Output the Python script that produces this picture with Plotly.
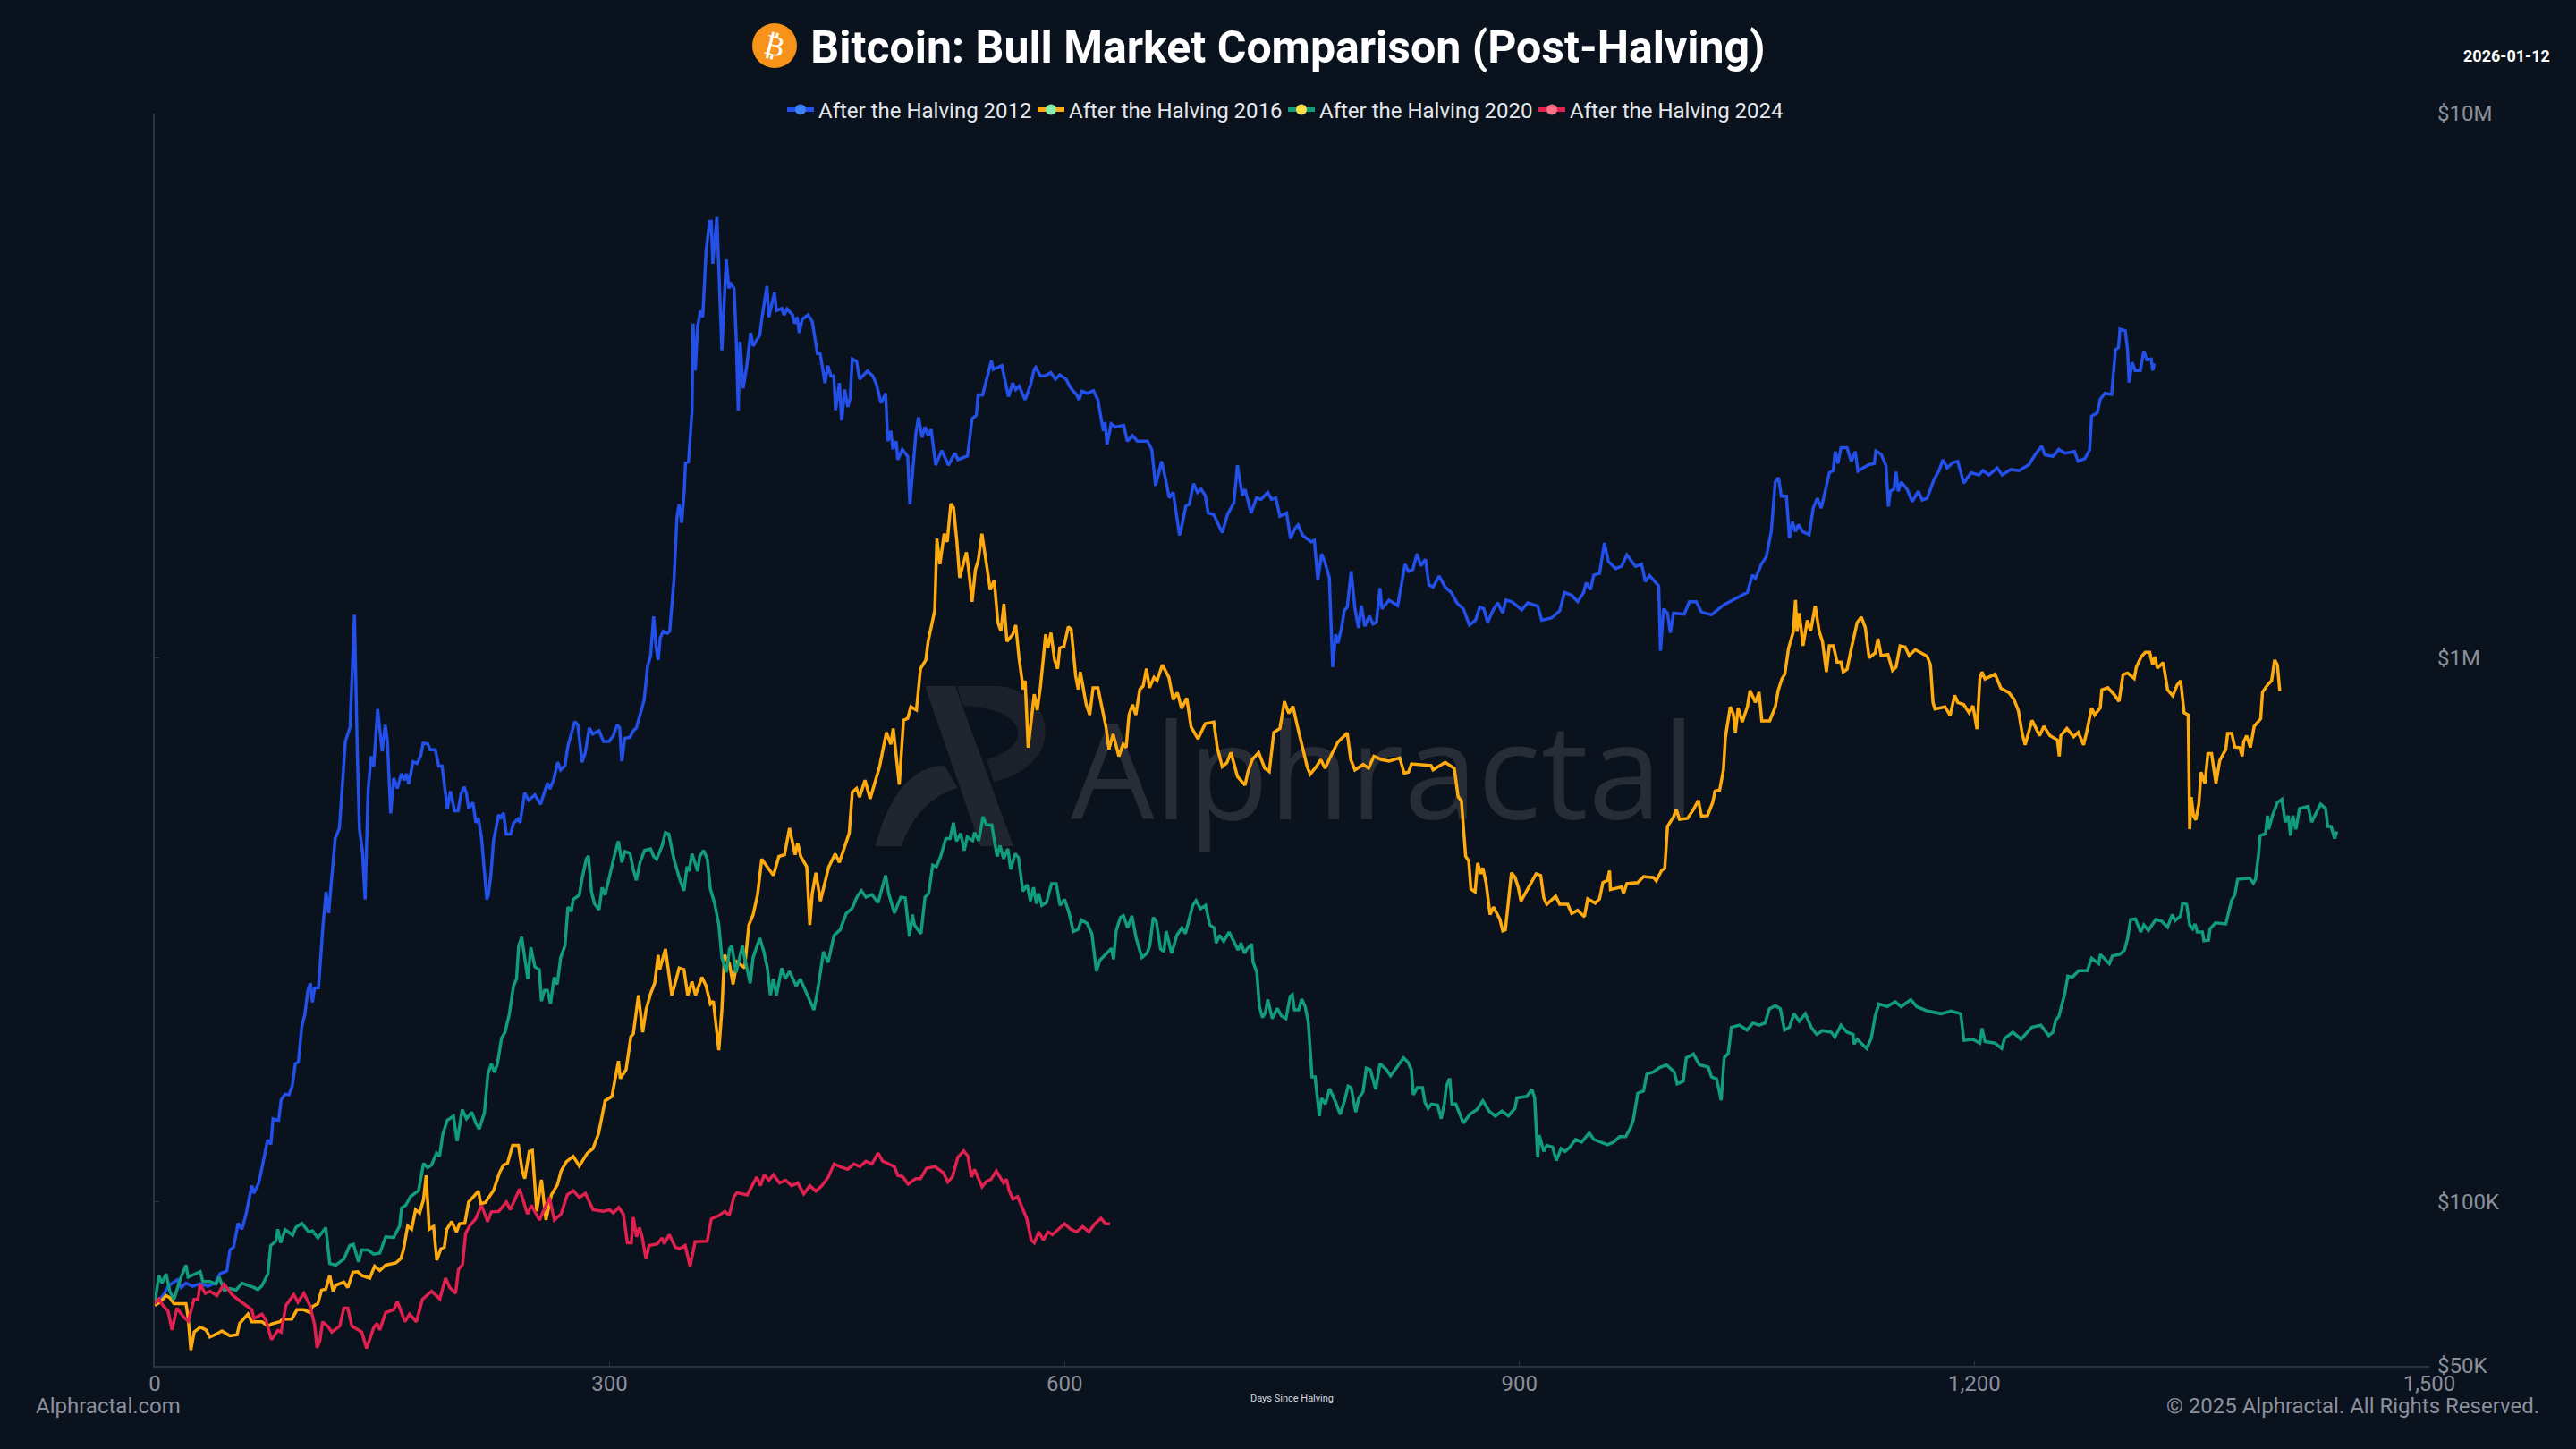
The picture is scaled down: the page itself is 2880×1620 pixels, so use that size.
import plotly.graph_objects as go

# (days since halving, log10 of price in USD)
after_2012 = [(0,4.81),(6,4.83),(9,4.846),(15,4.857),(17.5,4.843),(20.6,4.851),(25,4.845),(30,4.85),(35,4.845),(40,4.851),(43,4.868),(47.5,4.873),(49.6,4.912),(52,4.917),(55,4.961),(57.5,4.95),(60,4.975),(64,5.03),(65.4,5.016),(68.6,5.035),(72,5.08),
(74.4,5.114),(76.6,5.106),(78,5.153),(81.7,5.15),(83.4,5.188),(86,5.198),(88.5,5.197),(90.7,5.213),(92.7,5.254),(94.7,5.257),(97,5.323),(99,5.345),(101,5.389),(102.6,5.402),(104,5.367),(105.4,5.393),(108,5.394),(111,5.509),(113,5.57),(114.7,5.531),(117,5.608),(119,5.668),(121.8,5.687),(123.8,5.772),(125.7,5.846),(128.8,5.873),(131.7,6.079),(133.6,5.824),(135,5.685),(137,5.644),(138.7,5.556),(140.7,5.756),(142.7,5.819),(144.4,5.80),(147,5.906),(150,5.828),(152,5.877),(153.4,5.849),(155.6,5.714),(157.6,5.779),(160,5.76),(162.7,5.787),(164.7,5.775),(166,5.787),(167.5,5.768),(170.3,5.809),(173,5.806),(175.4,5.82),(177,5.843),(180,5.842),(181.6,5.831),(185,5.831),(187.3,5.801),(189.5,5.801),(191.5,5.759),(193,5.722),(195,5.755),(197.7,5.719),(200,5.719),(202,5.75),(204,5.763),(205.6,5.75),(207,5.723),(209.8,5.734),(211.8,5.697),(213.5,5.705),(215.5,5.669),(217,5.62),(219,5.556),(220,5.564),(221.7,5.602),(223.4,5.663),(226.8,5.712),(228,5.704),(230,5.715),(231.8,5.676),(234.7,5.676),(236.6,5.696),(239.5,5.704),(240.9,5.697),(244,5.752),(246.5,5.738),(250.7,5.748),(254.4,5.731),(259,5.77),(260.6,5.759),(263,5.775),(265.7,5.808),(267.7,5.794),(270.5,5.802),(272.5,5.838),(277,5.883),(279,5.877),(281.8,5.808),(283.8,5.824),(286.6,5.871),(288.8,5.86),(293,5.866),(296,5.846),(299.6,5.846),(302.4,5.857),(305,5.877),(306.6,5.871),(308,5.81),(310,5.852),(313.4,5.854),(315.6,5.866),(317.6,5.871),(320,5.893),
(321.3,5.906),(322.7,5.922),(325,5.984),(327,6.004),(329,6.076),(330.6,6.02),(332,5.996),(333.4,6.037),(335.4,6.049),(338,6.045),(339.6,6.049),(342.4,6.143),(344.4,6.258),(345.8,6.282),(347.5,6.248),(349.2,6.307),(350,6.358),(352,6.36),(354.3,6.454),(355,6.614),(356.5,6.528),(358,6.61),(360,6.638),(361.4,6.626),(363.6,6.749),(366,6.802),(367,6.802),(368,6.724),(370.7,6.81),(372.6,6.683),(374,6.565),(376.9,6.732),(378.6,6.679),(380,6.687),(382,6.679),(383.4,6.593),(384.8,6.454),(386,6.581),(388,6.495),(390.4,6.536),(393,6.597),(394.6,6.573),(399,6.593),(400.3,6.622),(403.7,6.683),(405,6.626),(408.7,6.671),(410,6.638),(413.5,6.642),(415,6.63),(417,6.641),(420.6,6.63),(422,6.614),(423.7,6.626),(425,6.597),(427,6.622),(430.8,6.63),(433.6,6.618),(435.6,6.577),(437,6.559),(438.8,6.559),(442,6.505),(443.9,6.537),(445.9,6.518),(447.8,6.518),(449,6.455),(451.5,6.505),(453,6.436),(455,6.493),(457,6.461),(458.6,6.477),(460,6.549),(462.8,6.545),(464.8,6.512),(470,6.527),(473.5,6.518),(476,6.502),(479,6.468),(482,6.486),(483.4,6.398),(485.4,6.417),(486.8,6.383),(489,6.398),(490,6.364),(493,6.383),(496.6,6.37),(498,6.282),(500,6.345),(502,6.414),(503.7,6.442),(506,6.405),(508,6.424),(510,6.408),(512,6.42),(515,6.354),(519,6.381),(523.4,6.354),(527.7,6.376),(529.7,6.364),(536,6.371),(539,6.439),(541.8,6.446),(543,6.483),(546,6.483),(549,6.518),(551.7,6.546),(553,6.53),(558.7,6.537),(561.5,6.499),(563,6.48),(565.8,6.505),(567.8,6.493),(570,6.499),(574,6.474),(577.6,6.502),(580,6.53),(581,6.534),(584,6.518),(587,6.518),(591,6.524),(594,6.512),(596.8,6.52),(601,6.512),(604,6.496),(608,6.483),(609.5,6.474),(611.5,6.49),(615,6.486),(619,6.491),(622,6.474),(624.5,6.433),(625.6,6.417),(626.7,6.433),(628,6.392),(630.7,6.43),(633.5,6.424),(639,6.427),(641.4,6.398),(644.8,6.408),(648,6.398),(654.7,6.398),(657.5,6.383),(660,6.316),(664,6.361),(666.8,6.326),(669,6.294),(671.6,6.304),(674.4,6.257),(675.8,6.225),(677,6.238),(680,6.279),(682.3,6.282),(685,6.32),(687.7,6.304),(690,6.31),(692.8,6.298),(694.7,6.266),(698.4,6.263),(704,6.23),(707.4,6.263),(711.7,6.285),(714,6.354),(717.3,6.298),(719,6.31),(723,6.266),(726.6,6.294),(729.4,6.291),(734,6.304),(736.5,6.291),(739.3,6.294),(742,6.26),(746.4,6.266),(749,6.219),(752,6.238),(754,6.244),(757,6.225),(762.7,6.213),(764.7,6.216),(767,6.143),(769.5,6.191),(771.8,6.175),(774.6,6.147),(776.8,5.983),(778.8,6.043),(780.2,6.027),(782.5,6.052),(784.5,6.087),(786.4,6.093),(789,6.159),(791.5,6.09),(793.8,6.055),(795.7,6.096),(798,6.058),(801,6.077),(803.4,6.062),(805.6,6.065),(808,6.128),(809.3,6.09),(814,6.106),(819.7,6.096),(821.7,6.128),(824.5,6.172),(826.8,6.159),(829.6,6.162),(832.4,6.191),(835,6.169),(838,6.181),(840.3,6.134),(843,6.13),(847,6.15),(851,6.13),(855,6.12),(859,6.10),(863,6.09),(867,6.06),(871,6.069),
(873.8,6.093),(876.5,6.09),(879,6.065),(882.3,6.086),(885.7,6.101),(889,6.082),(891,6.106),(895,6.103),(901.5,6.088),(905.4,6.101),(912,6.095),(914.7,6.069),(921,6.073),(926.5,6.086),(929.7,6.12),(934.4,6.115),(938.4,6.103),(942.3,6.12),(944,6.138),(946.8,6.125),(949,6.152),(952.8,6.155),(956,6.211),(958.6,6.177),(963.4,6.164),(967.3,6.168),(970.8,6.189),(976.5,6.168),(980.5,6.172),(983,6.14),(985.8,6.151),(991.8,6.132),(993,6.013),(995,6.09),(997.6,6.082),(999.5,6.046),(1001.6,6.082),(1008.7,6.08),(1012,6.103),(1016.6,6.103),(1020,6.084),(1026.6,6.079),(1034.5,6.097),(1042.4,6.108),(1050.3,6.12),(1053.5,6.152),(1055.6,6.146),(1059.5,6.172),(1062.7,6.185),(1066,6.232),(1068.7,6.323),(1070.8,6.331),(1072.7,6.297),(1076,6.297),(1078,6.22),(1080,6.25),(1082,6.232),(1084,6.245),(1086.6,6.232),(1091,6.226),(1093.7,6.275),(1096.4,6.293),(1099,6.275),(1101.6,6.306),(1104.3,6.34),(1106.9,6.344),(1108.2,6.379),(1110,6.357),(1112,6.386),(1116,6.386),(1118.8,6.361),(1121.4,6.379),(1123.2,6.343),(1126.7,6.349),(1130.6,6.355),(1134,6.357),(1135,6.38),(1138.5,6.374),(1141.7,6.353),(1143.3,6.278),(1144.6,6.306),(1147,6.31),(1148.3,6.342),(1149.8,6.306),(1151.7,6.323),(1155.6,6.31),(1159,6.287),(1163,6.306),(1165.6,6.29),(1168.8,6.293),(1173.3,6.327),(1176.7,6.344),(1179.3,6.364),(1182,6.349),(1186,6.359),(1189,6.361),(1193,6.321),(1197.8,6.34),(1203,6.336),(1205.7,6.344),(1209.6,6.336),(1215,6.349),(1218.3,6.336),(1224,6.346),(1229.4,6.344),(1236,6.355),(1240,6.373),(1244.4,6.389),(1246.5,6.373),(1251.8,6.37),(1255.7,6.383),(1259.7,6.376),(1266,6.379),(1268.4,6.361),(1272.8,6.366),(1276,6.382),(1277.3,6.444),(1281,6.45),(1283,6.475),(1286,6.486),(1290.5,6.484),(1293,6.566),(1295,6.57),(1296,6.604),(1299.5,6.601),(1301,6.566),(1302,6.506),(1304,6.543),(1306,6.528),(1309.4,6.528),(1311.7,6.564),(1313.7,6.548),(1316.6,6.549),(1317.6,6.528),(1318.6,6.541)]

after_2016 = [(0,4.81),(3.5,4.816),(7.5,4.828),(10,4.824),(12.7,4.813),(20.6,4.813),(22,4.788),(23.8,4.728),(26,4.761),(30,4.77),(33.8,4.765),(36.4,4.752),(40.4,4.757),(44.3,4.763),(49.6,4.754),(54.3,4.756),(56,4.777),(61.5,4.794),(64,4.78),(70.7,4.78),(74.6,4.772),(77.2,4.776),(82.5,4.78),(84.4,4.785),(90.4,4.785),(93.8,4.802),(98.3,4.802),(102.3,4.797),(104,4.808),(107.5,4.813),(110,4.838),(112.8,4.84),(115.4,4.865),(117.6,4.836),(119.4,4.847),(124.7,4.853),(127.3,4.843),(130.7,4.871),(133.9,4.872),(136.5,4.865),(141.8,4.86),(145,4.882),(148.4,4.874),(152.3,4.884),(159,4.888),(162.3,4.896),(164,4.912),(166.8,4.956),(169.4,4.95),(172,4.986),(174.7,4.98),(177.3,5.005),(179,5.049),(181,4.95),(183.9,4.955),(186,4.893),(188.7,4.914),(191,4.917),(192.6,4.95),(195.8,4.964),(199,4.945),(201,4.96),(204.5,4.961),(207,5.0),(210.3,5.01),(213.4,5.02),(215,4.997),(218,4.999),(223.4,5.021),(227.4,5.054),(230,5.068),(232.6,5.071),(236,5.104),(239.8,5.104),(242.4,5.057),(244,5.043),(247,5.093),(249,5.095),(251.9,4.983),(255,5.041),(258,4.967),(261.6,5.013),(265.6,5.032),(268,5.057),(271.4,5.074),(276,5.084),(280,5.066),(285.3,5.09),(289,5.098),(292.7,5.126),(297,5.186),
(301.5,5.194),(305.8,5.259),(307,5.227),(310.8,5.243),(314,5.304),(315.6,5.309),(319,5.38),(321.8,5.312),(324,5.353),(327,5.383),(329.7,5.402),(332,5.454),(333,5.427),(336.8,5.465),(338.8,5.427),(341,5.38),(343,5.4),(345.8,5.43),(349,5.427),(351.5,5.38),(354.3,5.405),(356.6,5.38),(360.8,5.413),(363.6,5.397),(366.4,5.364),(368.4,5.369),(372,5.279),(374,5.353),(375.7,5.454),(379,5.438),(381.4,5.4),(384,5.441),(389,5.43),(391.8,5.509),(394.6,5.528),(397.5,5.564),(400.3,5.63),(404.5,5.613),(408,5.6),(411.6,5.635),(415.3,5.638),(418.6,5.687),(422.3,5.638),(424,5.66),(426,5.635),(430,5.616),(432,5.509),(433.6,5.567),(436,5.605),(439,5.553),(444.4,5.615),(448.7,5.64),(451.5,5.624),(455,5.653),(458,5.678),(460,5.753),(462.8,5.76),(464.8,5.744),(468.4,5.775),(471.8,5.741),(474,5.763),(478,5.8),(482.5,5.863),(485.4,5.841),(487,5.87),(489,5.816),(491,5.767),(493.8,5.885),(496.6,5.889),(498.6,5.91),(502.3,5.904),(505,5.98),(508.5,5.996),(510,6.03),(513,6.065),(514.4,6.087),(515.8,6.219),(517.8,6.172),(520.6,6.228),(522.6,6.213),(525,6.283),(526.8,6.276),(529,6.213),(530.8,6.147),(532.5,6.165),(535.3,6.194),(537,6.156),(539,6.103),(541.2,6.162),(543,6.178),(545.5,6.228),(548.8,6.169),(551,6.125),(553.6,6.143),(556,6.065),(558,6.049),(560,6.099),(562,6.03),(565.8,6.043),(567.8,6.06),(570,5.999),(572.8,5.942),(574,5.958),(576,5.835),(578.5,5.904),(580,5.933),(582,5.904),(584,5.945),(586,5.999),(587.5,6.043),(589,6.018),(591,6.046),(593.4,5.996),(595.4,5.98),(596.8,6.018),(599.6,6.021),(602.5,6.057),(604.4,6.052),(607.3,5.967),(609,5.942),(610.4,5.974),(612.3,5.942),(614.3,5.914),(616.6,5.895),(618.8,5.945),(622,5.945),(625,5.904),(627.3,5.873),(629.3,5.832),(632,5.86),(635.8,5.819),(638.6,5.841),(640.6,5.835),(642.5,5.895),(644.8,5.914),(647,5.895),(649.6,5.942),(651.8,5.948),(654,5.98),(656,5.945),(659,5.964),(661,5.958),(664.5,5.987),(668.8,5.964),(671.6,5.923),(674.4,5.936),(677.2,5.907),(680.6,5.926),(683.4,5.873),(688,5.851),(692.8,5.879),(698.4,5.882),(700.7,5.835),(704,5.8),(707,5.807),(709.7,5.826),(714,5.782),(719,5.766),(721,5.791),(723.8,5.813),(728,5.826),(732,5.797),(735,5.791),(738,5.863),(742,5.87),(745,5.92),(747.8,5.898),(750.6,5.911),(753.4,5.876),(756.2,5.845),(760,5.8),(762,5.786),(766,5.8),(769,5.813),(771.8,5.797),(776,5.822),(780.2,5.845),(786.4,5.862),(788.7,5.813),(791.5,5.794),(797,5.804),(800.5,5.797),(804,5.819),(809,5.813),(814,5.81),(821,5.816),(824,5.788),(826.8,5.79),(828.8,5.805),(841.7,5.802),(843,5.794),(851,5.808),(857,5.797),(859.5,5.745),(861.7,5.737),(864.5,5.635),(866.5,5.627),(868,5.575),(870.7,5.57),(872.4,5.623),(874.4,5.603),(875.8,5.614),(878,5.586),(880.6,5.528),(882.8,5.542),(887,5.52),(889,5.498),(890.7,5.5),(893.3,5.564),(894.7,5.605),(897,5.597),(899.2,5.578),(901,5.553),(905.4,5.575),(908,5.586),(911,5.603),(914,5.6),(916,5.559),(918,5.547),(923.9,5.562),(926.5,5.547),(931.8,5.547),(934.4,5.53),(938.4,5.536),(942.8,5.524),(945,5.557),(950,5.549),(952.8,5.557),(955,5.587),(958,5.591),(959.4,5.609),(960,5.574),(967.3,5.579),(968.6,5.567),(970.8,5.585),(978,5.587),(981.8,5.598),(988.4,5.596),(990.2,5.59),(993.7,5.609),(995.8,5.613),(997.6,5.69),(1001.6,5.708),(1003.4,5.721),(1005.5,5.703),(1010.8,5.705),(1014.7,5.721),(1018,5.738),(1020,5.709),(1024,5.71),(1027.4,5.734),(1029,5.755),(1032,5.757),(1034.5,5.794),(1035.8,5.854),(1039,5.91),(1041,5.897),(1042.4,5.863),(1044.2,5.908),(1046.9,5.882),(1050.3,5.91),(1052,5.94),(1055.6,5.918),(1058,5.937),(1059.8,5.884),(1065,5.884),(1068.7,5.91),(1070.6,5.94),(1073,5.961),(1075,5.97),(1077.4,6.017),(1080.6,6.048),(1082,6.106),(1083,6.048),(1084.5,6.082),(1087,6.022),(1089.8,6.069),(1092,6.049),(1095,6.095),(1097.7,6.048),(1099.8,6.03),(1102.4,5.974),(1104.3,6.022),(1107,6.022),(1109.5,5.992),(1112,5.992),(1113.5,5.974),(1116,5.979),(1118.8,6.017),(1122.7,6.065),(1125.4,6.075),(1128,6.056),(1130.6,6.0),(1134.6,6.009),(1136.4,6.035),(1138.5,6.004),(1143,6.006),(1146,5.977),(1148.3,5.983),(1151,6.022),(1154.3,6.02),(1157,6.004),(1161,6.015),(1168.8,6.003),(1171,5.987),(1172.7,5.918),(1174,5.906),(1180.6,5.91),(1184,5.894),(1187,5.931),(1189,5.918),(1193,5.914),(1196.5,5.899),(1199,5.912),(1201.7,5.869),(1203.6,5.961),(1205,5.974),(1207,5.961),(1213.6,5.97),(1217.5,5.944),(1222.8,5.936),(1226,5.924),(1229,5.903),(1231.5,5.861),(1233.5,5.84),(1238,5.885),(1243,5.857),(1245.8,5.874),(1249.8,5.857),(1254.7,5.849),(1256,5.819),(1257,5.857),(1261,5.87),(1265.5,5.855),(1268.5,5.863),(1272,5.84),(1274,5.863),(1277.3,5.908),(1279.3,5.895),(1283,5.908),(1284,5.941),(1288,5.945),(1292,5.933),(1295.4,5.92),(1298,5.969),(1301,5.972),(1305.4,5.962),(1306.8,5.983),(1310,6.002),(1312.7,6.01),(1315.6,6.01),(1317.6,5.987),(1319,6.002),(1320.6,5.981),(1324.5,5.991),(1327.4,5.941),(1330.8,5.93),(1333.7,5.95),(1336,5.958),(1338.3,5.899),(1341,5.895),(1342,5.685),(1343,5.744),(1344.5,5.71),(1346,5.702),(1348,5.731),(1349.5,5.79),(1352,5.769),(1354,5.824),(1356.4,5.824),(1359.3,5.769),(1361.8,5.811),(1365.8,5.832),(1367,5.861),(1369.7,5.861),(1371.7,5.836),(1375,5.835),(1376.6,5.819),(1377.6,5.846),(1379.5,5.857),(1382,5.835),(1384.5,5.874),(1388.8,5.888),(1390,5.937),(1393.3,5.95),(1396,5.958),(1398,5.996),(1399.8,5.987),(1401.4,5.939)]

after_2020 = [(0,4.813),(2.7,4.865),(4.8,4.851),(7.5,4.868),(10,4.835),(12.7,4.821),(16.7,4.857),(20.6,4.884),(22,4.862),(30,4.872),(31.7,4.854),(36.4,4.854),(40.4,4.849),(42.5,4.862),(45.7,4.838),(49.6,4.841),(53.6,4.838),(57.5,4.851),(65.4,4.843),(68,4.839),(70.7,4.846),(74.6,4.868),(76.5,4.92),(79.9,4.928),(81.2,4.95),(83,4.925),(86,4.949),(91,4.939),(93,4.953),(97,4.961),(101.5,4.945),(104,4.947),(107.6,4.934),(112.8,4.953),(115.4,4.887),(119.4,4.884),(124.7,4.895),(128.6,4.92),(131,4.922),(134.4,4.89),(136.5,4.912),(140.5,4.912),(144.4,4.904),(148.4,4.906),(152.3,4.936),(157.6,4.935),(161.5,4.956),(162.8,4.989),(165.5,4.994),(168.7,5.01),(174,5.021),(177.3,5.071),(180,5.063),(182.6,5.068),(185.8,5.09),(187.8,5.084),(190,5.125),(192.9,5.15),(197,5.158),(199.4,5.112),(202.8,5.17),(205.6,5.153),(209,5.165),(211.8,5.145),(214,5.134),(217.4,5.164),(219.7,5.235),(222,5.254),(224,5.238),(226,5.254),(228.7,5.301),(231,5.312),(233.8,5.345),(236.6,5.397),(238.6,5.41),(240,5.471),(242,5.487),(246,5.41),(248,5.468),(250.7,5.432),(253.6,5.427),(255,5.369),(257,5.389),(259,5.389),(261,5.364),(263.4,5.413),(265.4,5.4),(267.7,5.449),(270.5,5.471),(272.5,5.542),(274.7,5.534),(276,5.556),(280,5.564),(281.8,5.594),(284.6,5.63),(286,5.636),(288,5.57),(290,5.548),(293,5.537),(295,5.578),(297,5.564),(300,5.602),(303.5,5.641),(305.8,5.663),(308,5.624),(310,5.644),(313.4,5.641),(315.6,5.611),(317.6,5.591),(320,5.624),(323,5.646),(327,5.649),(329,5.635),(331,5.63),(334.5,5.654),(336.8,5.679),(339,5.676),(342.4,5.63),(345.8,5.597),(349,5.572),(351,5.616),(352.3,5.608),(354.3,5.64),(358,5.608),(359.4,5.635),(362,5.646),(364.4,5.63),(366.4,5.575),(369.3,5.548),(372,5.509),(374,5.449),(377,5.422),(379,5.465),(380.5,5.471),(383.4,5.422),(387.6,5.471),(389,5.449),(392.7,5.402),(394.6,5.449),(399,5.485),(401.7,5.46),(404,5.43),(406,5.38),(408,5.41),(410,5.38),(413.5,5.43),(415.8,5.41),(418.6,5.424),(423,5.397),(425.7,5.41),(430,5.383),(434.7,5.353),(437,5.386),(441,5.46),(444,5.44),(448,5.49),(452,5.50),(456,5.53),(460,5.54),(463,5.56),(466,5.572),(469,5.56),(473,5.565),(477,5.55),(480,5.58),(482,5.6),(484,5.567),(487.8,5.531),
(492,5.56),(494.9,5.559),(497.7,5.488),(499.7,5.528),(501,5.509),(505.3,5.493),(508,5.56),(510.4,5.567),(513,5.619),(515.5,5.616),(518.3,5.635),(521.7,5.668),(524.5,5.668),(526.7,5.697),(528.7,5.663),(531.5,5.677),(533.8,5.646),(535.8,5.671),(539.4,5.664),(540.6,5.679),(543.4,5.664),(546.2,5.708),(548.5,5.693),(552,5.693),(555.5,5.635),(557.5,5.655),(559.8,5.631),(562.6,5.649),(564.5,5.611),(567.4,5.64),(569.6,5.633),(572.5,5.571),(575.3,5.583),(577.5,5.553),(579.5,5.578),(581.5,5.548),(582.9,5.567),(585,5.545),(588,5.55),(591.4,5.585),(594.5,5.585),(597,5.545),(600,5.556),(603,5.531),(605.8,5.497),(609,5.501),(611,5.518),(614.8,5.512),(618,5.493),(621,5.424),(623.2,5.444),(628,5.457),(631,5.466),(632.3,5.446),(634,5.498),(636.8,5.523),(638.8,5.526),(641.6,5.504),(644.4,5.526),(647.2,5.485),(651,5.449),(654.3,5.457),(656.2,5.471),(658.5,5.523),(660.5,5.515),(663.3,5.465),(665.5,5.46),(667,5.498),(670.6,5.457),(674,5.49),(677.4,5.504),(679.7,5.493),(682.5,5.526),(684.5,5.545),(686.7,5.554),(689.6,5.539),(693,5.545),(695.8,5.509),(698.6,5.504),(700,5.476),(702.2,5.49),(705,5.479),(708.5,5.496),(712,5.476),(714.4,5.463),(716.4,5.476),(718.6,5.457),(720.6,5.466),(723.4,5.474),(724.3,5.441),(726.8,5.422),(728.5,5.359),(730.5,5.339),(732.4,5.348),(734,5.372),(737,5.337),(740.3,5.356),(743,5.342),(746,5.337),(748.8,5.378),(750.2,5.381),(751.6,5.353),(754.4,5.353),(756.4,5.373),(758.7,5.359),(760.7,5.331),(762,5.285),(763.2,5.23),(765.2,5.23),(766.6,5.189),(768,5.158),(769.4,5.191),(772,5.18),(774.8,5.208),(778.4,5.186),(781.8,5.161),(784.6,5.186),(787,5.213),(789,5.21),(792,5.165),(794,5.191),(796.8,5.202),(799,5.246),(801.6,5.243),(805.2,5.207),(808,5.254),(812.3,5.243),(815,5.232),(818.5,5.246),(820.8,5.254),(823.6,5.265),(826.4,5.257),(828.7,5.243),(830,5.197),(832.6,5.21),(836,5.21),(837.7,5.183),(839.7,5.172),(842,5.18),(846,5.178),(848.4,5.153),(850.4,5.18),(851.8,5.213),(854,5.227),(855.5,5.18),(858,5.18),(863,5.145),(867.3,5.161),(872,5.17),(875.8,5.186),(880,5.167),(884,5.158),(888.5,5.167),(892.7,5.158),(897,5.172),(898.3,5.191),(904.8,5.194),(908.2,5.207),(910,5.191),(912,5.082),(913,5.123),(916,5.093),(918,5.104),(921.8,5.101),(924.3,5.076),(927.4,5.098),(930,5.093),(933,5.10),(937,5.115),(941,5.11),(944,5.12),(946,5.127),(949,5.115),(953,5.11),(958,5.105),(962,5.11),(966,5.12),(970,5.12),(973,5.135),(975,5.15),
(978,5.2),(981.8,5.204),(984,5.235),(988.4,5.239),(992.4,5.247),(997,5.252),(1002,5.239),(1004,5.217),(1008,5.222),(1010,5.265),(1014.7,5.272),(1018.7,5.252),(1024.5,5.248),(1026.6,5.23),(1030,5.226),(1033,5.187),(1035,5.265),(1037.7,5.273),(1039.7,5.321),(1045,5.325),(1050,5.316),(1054,5.329),(1058,5.325),(1062,5.329),(1064.8,5.355),(1068.7,5.361),(1072,5.355),(1074.8,5.316),(1078,5.321),(1081,5.346),(1084.5,5.332),(1088.5,5.346),(1092.4,5.321),(1096,5.308),(1100,5.315),(1105.6,5.312),(1108,5.303),(1112,5.325),(1116,5.312),(1120,5.308),(1120.6,5.29),(1122.7,5.299),(1129,5.282),(1132,5.301),(1134.6,5.342),(1137,5.364),(1142.5,5.359),(1147.7,5.368),(1151.7,5.359),(1158,5.372),(1162,5.359),(1169,5.351),(1178,5.346),(1184.6,5.351),(1191,5.346),(1193,5.297),(1199,5.299),(1203.6,5.292),(1205,5.319),(1207,5.295),(1213.6,5.292),(1218,5.282),(1220,5.301),(1225.4,5.312),(1230.7,5.299),(1237.8,5.321),(1243.8,5.325),(1249,5.306),(1251.8,5.312),(1253.6,5.334),(1255.7,5.341),(1259.6,5.383),(1261.6,5.415),(1264.5,5.413),(1268.8,5.425),(1274.4,5.425),(1277.3,5.448),(1282,5.438),(1283,5.455),(1289,5.438),(1291,5.452),(1296,5.455),(1299,5.463),(1301,5.484),(1303,5.519),(1306.2,5.52),(1309.7,5.496),(1311.7,5.509),(1314.7,5.499),(1319.6,5.519),(1323.5,5.516),(1327.4,5.505),(1330.4,5.528),(1332.4,5.517),(1336,5.526),(1337.3,5.549),(1340,5.547),(1342,5.509),(1344,5.502),(1345.5,5.511),(1347,5.496),(1350.4,5.496),(1351.4,5.48),(1354.4,5.481),(1355.4,5.502),(1359,5.513),(1365.8,5.511),(1369.7,5.555),(1371.7,5.564),(1373.6,5.593),(1381.5,5.595),(1384,5.586),(1385.4,5.593),(1387.4,5.639),(1388.4,5.673),(1392,5.677),(1393.3,5.71),(1394,5.685),(1396.6,5.71),(1399.8,5.734),(1402.8,5.74),(1405,5.698),(1407,5.71),(1408.5,5.673),(1410,5.71),(1412,5.685),(1414.4,5.723),(1420,5.727),(1422.4,5.698),(1425.4,5.715),(1428.3,5.731),(1431.6,5.723),(1433,5.69),(1435.2,5.69),(1437.6,5.668),(1439,5.681)]

after_2024 = [(0,4.813),(2.7,4.822),(5.4,4.81),(8.8,4.799),(11.4,4.765),(14.6,4.805),(19.3,4.788),(22,4.781),(25.9,4.821),(28.5,4.821),(29.9,4.849),(33.3,4.832),(36.4,4.836),(41,4.828),(45.7,4.849),(50.9,4.83),(54.9,4.821),(60,4.81),(64,4.802),(65.4,4.786),(70.7,4.794),(73.3,4.783),(77,4.747),(81.2,4.764),(83.3,4.761),(86.5,4.81),(91.7,4.83),(94.4,4.816),(98.3,4.832),(102.3,4.81),(105.4,4.775),(107,4.732),(108.9,4.745),(110.7,4.78),(114,4.772),(116.8,4.761),(122,4.772),(124.7,4.805),(127.3,4.805),(130,4.772),(133.9,4.766),(136.5,4.761),(139.7,4.731),(144.4,4.769),(146.5,4.777),(148.4,4.765),(152.3,4.797),(157.6,4.802),(160,4.817),(165,4.78),(168,4.794),(172.6,4.78),(176.5,4.821),(182.6,4.836),(188,4.822),(191.8,4.86),(194.5,4.843),(198.4,4.832),(200.3,4.876),(203,4.885),(205,4.942),(207.6,4.956),(211.6,4.969),(215.5,4.994),(219.5,4.964),(222,4.982),(226.9,4.983),(231.9,5.0),(234.5,4.986),(240.6,5.024),(245.8,4.978),(248.4,4.994),(253.7,4.967),(260.3,5.008),(263.5,4.967),(268,4.978),(272,5.013),(276,5.021),(280,5.008),(284,5.016),(289,4.986),(296,4.983),(300,4.986),(302.4,4.98),(306,4.99),(309,4.978),(311.7,4.925),(314.3,4.925),(315.6,4.972),(317.7,4.936),(319.6,4.953),(321.4,4.936),(324,4.895),(326,4.92),(331.4,4.923),(334.6,4.934),(336,4.923),(339.3,4.94),(343.3,4.917),(346,4.914),(349.8,4.92),(353,4.882),(356.4,4.927),(364.3,4.928),(367,4.969),(372,4.975),(376,4.983),(378.8,4.975),(382,5.01),(384,5.017),(390.7,5.013),(397,5.046),(399.4,5.03),
(402,5.05),(405,5.04),(408,5.05),(412,5.035),(416,5.04),(420,5.03),(424,5.035),(428,5.015),(432,5.03),(436,5.02),(440,5.03),(444,5.045),(448,5.07),(452,5.065),(457,5.06),(461,5.07),(465,5.065),(469,5.075),(473,5.07),(477,5.09),(480,5.075),(484,5.07),(487.8,5.065),(490,5.049),(493.4,5.046),(496.8,5.033),(501.9,5.043),(505,5.043),(509,5.062),(514.6,5.065),(520,5.054),(523,5.037),(526,5.046),(529.6,5.082),(533.5,5.094),(536.3,5.084),(538.6,5.046),(540.6,5.06),(545.6,5.028),(548.5,5.038),(551.3,5.041),(555,5.057),(557.8,5.043),(559.8,5.035),(561.7,5.042),(563.4,5.021),(566,5.005),(569,5.01),(572,4.99),(575,4.97),(578,4.93),(580,4.925),(583,4.945),(586,4.93),(589,4.945),(592,4.94),(596,4.95),(600,4.96),(604,4.95),(608,4.945),(612,4.955),(616,4.945),(620,4.96),(624,4.97),(627,4.96),(630,4.96)]

series_names = ["After the Halving 2012", "After the Halving 2016", "After the Halving 2020", "After the Halving 2024"]
line_colors = ["#2350e8", "#ffab0f", "#119c7c", "#e0214f"]
dot_colors = ["#3b82f6", "#86efac", "#fde047", "#fb7185"]

x_ticks = [0, 300, 600, 900, 1200, 1500]
y_ticks = [50000, 100000, 1000000, 10000000]
y_tick_labels = ["$50K", "$100K", "$1M", "$10M"]

BG = "#0a121e"
TICK = "#8a8f9b"
AXIS = "#2b3241"
FONT = "Roboto"
WIDTH, HEIGHT = 2880, 1620
LEFT, RIGHT, TOP, BOTTOM = 173, 164, 127, 93
Y_RANGE = [4.69897, 7]


def pap_x(px):
    return (px - LEFT) / (WIDTH - LEFT - RIGHT)


def pap_y(py):
    return (HEIGHT - BOTTOM - py) / (HEIGHT - BOTTOM - TOP)


def logo_path(cmds):
    # cmds are pixel positions on the page, shapes want paper coordinates
    out = []
    for c, pts in cmds:
        out.append(c + " ".join(f"{pap_x(x):.4f},{pap_y(y):.4f}" for x, y in pts))
    return " ".join(out) + " Z"


fig = go.Figure()

# watermark word sits under the lines, so it goes in first as a text trace
fig.add_trace(go.Scatter(
    x=[810], y=[10 ** 5.764], mode="text", text=["Alphractal"], showlegend=False, hoverinfo="skip",
    textposition="middle center",
    textfont=dict(family="Open Sans", size=148, color="#272c36"),
))

for name, pts, color, dot in zip(series_names, [after_2012, after_2016, after_2020, after_2024], line_colors, dot_colors):
    fig.add_trace(go.Scatter(
        x=[p[0] for p in pts],
        y=[10 ** p[1] for p in pts],
        name=name,
        mode="lines+markers",
        line=dict(color=color, width=3.5),
        # markers only exist for the legend swatch
        marker=dict(size=0.01, color=dot),
    ))

# right hand price labels live on a second axis, the axis line stays left
fig.add_trace(go.Scatter(x=[None], y=[None], yaxis="y2", showlegend=False, hoverinfo="skip"))

logo = [
    [("M", [(1034, 767)]), ("L", [(1068, 767)]), ("L", [(1133, 946)]), ("L", [(1096, 946)])],
    [("M", [(979, 946)]), ("C", [(993, 889), (1020, 856), (1056, 856)]), ("L", [(1071, 881)]), ("C", [(1041, 889), (1017, 916), (1008, 946)])],
    [("M", [(1070, 767)]), ("L", [(1118, 767)]), ("C", [(1180, 774), (1194, 855), (1111, 874)]), ("L", [(1103, 849)]), ("C", [(1156, 835), (1151, 793), (1077, 789)])],
]
logo_colors = ["#20252f", "#20252f", "#1b202b"]
shapes = [
    dict(type="path", xref="paper", yref="paper", path=logo_path(cmds), fillcolor=col, line_width=0, layer="below")
    for cmds, col in zip(logo, logo_colors)
]
# bitcoin badge next to the title
shapes.append(dict(
    type="circle", xref="paper", yref="paper", x0=pap_x(841), x1=pap_x(891), y0=pap_y(76), y1=pap_y(26),
    fillcolor="#f7931a", line_width=0,
))

annotations = [
    dict(text="₿", x=pap_x(866), y=pap_y(51), xanchor="center", font=dict(family="DejaVu Sans", size=32, color="#ffffff"), textangle=14),
    dict(text="<b>2026-01-12</b>", x=pap_x(2853), y=pap_y(63), xanchor="right", font=dict(family=FONT, size=18, color="#ffffff")),
    dict(text="Alphractal.com", x=pap_x(38), y=pap_y(1572), xanchor="left", font=dict(family=FONT, size=24, color=TICK)),
    dict(text="© 2025 Alphractal. All Rights Reserved.", x=pap_x(2841), y=pap_y(1572), xanchor="right", font=dict(family=FONT, size=24, color=TICK)),
]
for a in annotations:
    a.update(xref="paper", yref="paper", showarrow=False, yanchor="middle")

fig.update_layout(
    width=WIDTH,
    height=HEIGHT,
    margin=dict(l=LEFT, r=RIGHT, t=TOP, b=BOTTOM, autoexpand=False),
    paper_bgcolor=BG,
    plot_bgcolor=BG,
    font=dict(family=FONT, color=TICK),
    title=dict(
        text="Bitcoin: Bull Market Comparison (Post-Halving)",
        x=1440 / WIDTH, y=1 - 52 / HEIGHT, xanchor="center", yanchor="middle",
        font=dict(family=FONT, size=50, weight=700, color="#ffffff"),
    ),
    legend=dict(
        orientation="h", x=pap_x(1435), y=pap_y(123), xanchor="center", yanchor="middle",
        bgcolor="rgba(0,0,0,0)", itemsizing="constant", itemwidth=30,
        entrywidth=235, entrywidthmode="pixels",
        font=dict(family=FONT, size=24, color="#e5e7eb"),
    ),
    xaxis=dict(
        range=[0, 1500], tickvals=x_ticks, tickformat=",", showgrid=False, zeroline=False,
        showline=True, linecolor=AXIS, linewidth=2, ticks="inside", ticklen=5, tickcolor=AXIS,
        tickfont=dict(family=FONT, size=24, color=TICK), ticklabelstandoff=-3,
        title=dict(text="Days Since Halving", standoff=0, font=dict(family=FONT, size=11, color="#d5d8de")),
    ),
    yaxis=dict(
        type="log", range=Y_RANGE, tickvals=y_ticks, showticklabels=False, showgrid=False, zeroline=False,
        showline=True, linecolor=AXIS, linewidth=2, ticks="inside", ticklen=5, tickcolor=AXIS,
    ),
    yaxis2=dict(
        type="log", range=Y_RANGE, overlaying="y", side="right", tickvals=y_ticks, ticktext=y_tick_labels,
        showgrid=False, zeroline=False, showline=False, ticks="", ticklabelstandoff=8,
        tickfont=dict(family=FONT, size=24, color=TICK),
    ),
    shapes=shapes,
    annotations=annotations,
)

# browser default body margin would push the 2880x1620 figure off the page
fig.write_html("out.html", config={"displayModeBar": False}, post_script="document.body.style.margin='0';")
